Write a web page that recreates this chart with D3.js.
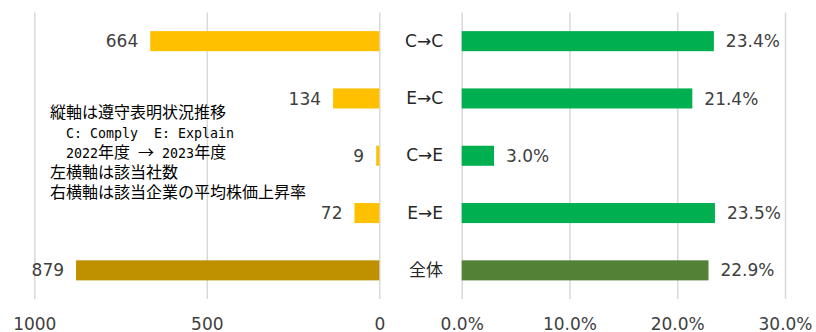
<!DOCTYPE html>
<html>
<head>
<meta charset="utf-8">
<script src="https://cdn.jsdelivr.net/npm/d3@7/dist/d3.min.js"></script>
<style>
  html, body { margin: 0; padding: 0; background: #fff; }
  svg { display: block; }
  .lbl { font-family: "DejaVu Sans", "Noto Sans CJK JP", sans-serif; font-size: 17px; }
</style>
</head>
<body>
<svg id="chart" width="816" height="332"></svg>
<script>
// Compliance transition categories (2022 -> 2023)
const categories = ["C→C", "E→C", "C→E", "E→E", "全体"];
// Number of companies per category (left panel)
const companyCounts = [664, 134, 9, 72, 879];
// Average share price rise per category, percent (right panel)
const priceRise = [23.4, 21.4, 3.0, 23.5, 22.9];
// Axis ticks
const countTicks = [1000, 500, 0];
const rateTicks = [0, 10, 20, 30];
// Explanatory note
const noteLines = [
  "縦軸は遵守表明状況推移",
  "  C: Comply  E: Explain",
  "  2022年度 → 2023年度",
  "左横軸は該当社数",
  "右横軸は該当企業の平均株価上昇率"
];

const svg = d3.select("#chart");
const plotTop = 12.5, plotBottom = 299;
const gridColor = "#d9d9d9", textColor = "#404040";

const y = d3.scaleBand()
  .domain(categories)
  .range([plotTop, plotBottom])
  .paddingInner(0.65)
  .paddingOuter(0.325);

const xL = d3.scaleLinear().domain([0, 1000]).range([379.3, 34.3]);
const xR = d3.scaleLinear().domain([0, 30]).range([461.7, 785]);

function gridAxis(scale, ticks, fmt) {
  const g = svg.append("g")
    .attr("transform", `translate(0,${plotBottom})`)
    .call(d3.axisBottom(scale).tickValues(ticks).tickFormat(fmt)
      .tickSize(-(plotBottom - plotTop)).tickPadding(19));
  g.select(".domain").remove();
  g.selectAll(".tick line").attr("stroke", gridColor).attr("stroke-width", 1.5);
  g.selectAll(".tick text").attr("class", "lbl").attr("fill", textColor)
    .style("font-size", "17px");
  return g;
}
gridAxis(xL, countTicks, d3.format("d"));
gridAxis(xR, rateTicks, d => d.toFixed(1) + "%");

const isTotal = (d, i) => i === categories.length - 1;

// Left panel: company counts extending leftwards from zero
svg.append("g").selectAll("rect")
  .data(companyCounts)
  .join("rect")
  .attr("x", d => xL(d))
  .attr("width", d => xL(0) - xL(d))
  .attr("y", (d, i) => y(categories[i]))
  .attr("height", y.bandwidth())
  .attr("fill", (d, i) => isTotal(d, i) ? "#bf9000" : "#ffc000");

svg.append("g").selectAll("text")
  .data(companyCounts)
  .join("text")
  .attr("class", "lbl")
  .attr("x", d => xL(d) - 12)
  .attr("y", (d, i) => y(categories[i]) + y.bandwidth() / 2)
  .attr("dy", "0.36em")
  .attr("text-anchor", "end")
  .attr("fill", textColor)
  .text(d => d);

// Right panel: average price rise
svg.append("g").selectAll("rect")
  .data(priceRise)
  .join("rect")
  .attr("x", xR(0))
  .attr("width", d => xR(d) - xR(0))
  .attr("y", (d, i) => y(categories[i]))
  .attr("height", y.bandwidth())
  .attr("fill", (d, i) => isTotal(d, i) ? "#538135" : "#00b050");

svg.append("g").selectAll("text")
  .data(priceRise)
  .join("text")
  .attr("class", "lbl")
  .attr("x", d => xR(d) + 12)
  .attr("y", (d, i) => y(categories[i]) + y.bandwidth() / 2)
  .attr("dy", "0.36em")
  .attr("fill", textColor)
  .text(d => d.toFixed(1) + "%");

// Category labels between the two panels
const cat = svg.append("g")
  .attr("transform", "translate(443,0)")
  .call(d3.axisLeft(y).tickSize(0).tickPadding(0));
cat.select(".domain").remove();
cat.selectAll(".tick text").attr("class", "lbl").attr("fill", "#262626")
  .style("font-size", "17px");

// Note: half-width runs in a monospace face, full-width runs in a CJK face
const note = svg.append("g");
noteLines.forEach((line, i) => {
  const t = note.append("text")
    .attr("x", 50)
    .attr("y", 118 + i * 20)
    .attr("fill", "#000")
    .style("white-space", "pre");
  const runs = line.match(/[\x00-\x7f]+|[^\x00-\x7f]+/g);
  runs.forEach(r => {
    const ascii = /^[\x00-\x7f]/.test(r);
    t.append("tspan")
      .style("font-family", ascii ? "'DejaVu Sans Mono', monospace" : "'Noto Sans CJK JP', sans-serif")
      .style("font-size", ascii ? "13.3px" : "16px")
      .text(r);
  });
});
</script>
</body>
</html>
